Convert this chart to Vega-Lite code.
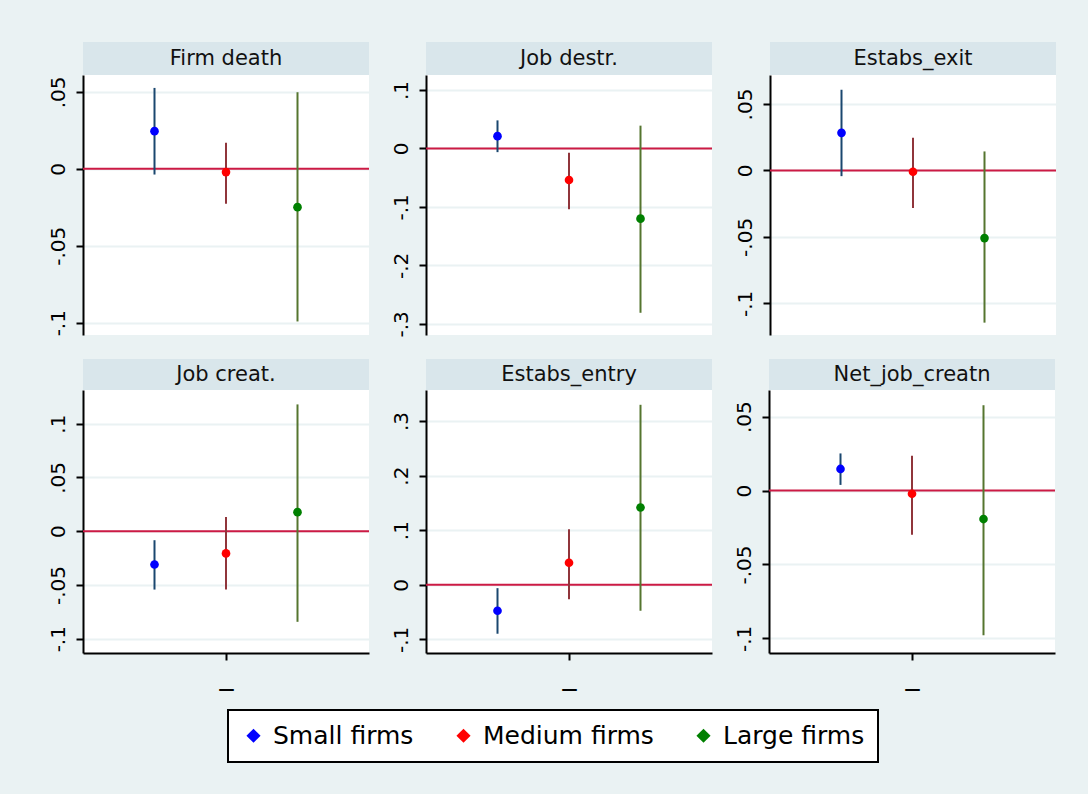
{
  "$schema": "https://vega.github.io/schema/vega-lite/v6.json",
  "background": "#EAF2F3",
  "padding": {"left": 47, "top": 42, "right": 32, "bottom": 32},
  "datasets": {
    "est": [
      {"outcome": "Firm death", "size": "Small firms", "coef": 0.0245, "lo": -0.0037, "hi": 0.0526},
      {"outcome": "Firm death", "size": "Medium firms", "coef": -0.0021, "lo": -0.0227, "hi": 0.0169},
      {"outcome": "Firm death", "size": "Large firms", "coef": -0.0249, "lo": -0.0992, "hi": 0.0498},
      {"outcome": "Job destr.", "size": "Small firms", "coef": 0.021, "lo": -0.0063, "hi": 0.048},
      {"outcome": "Job destr.", "size": "Medium firms", "coef": -0.054, "lo": -0.104, "hi": -0.0074},
      {"outcome": "Job destr.", "size": "Large firms", "coef": -0.12, "lo": -0.281, "hi": 0.039},
      {"outcome": "Estabs_exit", "size": "Small firms", "coef": 0.0283, "lo": -0.0043, "hi": 0.0607},
      {"outcome": "Estabs_exit", "size": "Medium firms", "coef": -0.001, "lo": -0.0283, "hi": 0.0246},
      {"outcome": "Estabs_exit", "size": "Large firms", "coef": -0.0509, "lo": -0.1145, "hi": 0.0143},
      {"outcome": "Job creat.", "size": "Small firms", "coef": -0.031, "lo": -0.0543, "hi": -0.0084},
      {"outcome": "Job creat.", "size": "Medium firms", "coef": -0.0207, "lo": -0.0543, "hi": 0.0133},
      {"outcome": "Job creat.", "size": "Large firms", "coef": 0.0177, "lo": -0.0843, "hi": 0.1179},
      {"outcome": "Estabs_entry", "size": "Small firms", "coef": -0.0476, "lo": -0.0897, "hi": -0.0062},
      {"outcome": "Estabs_entry", "size": "Medium firms", "coef": 0.0403, "lo": -0.0264, "hi": 0.1018},
      {"outcome": "Estabs_entry", "size": "Large firms", "coef": 0.1416, "lo": -0.0476, "hi": 0.3297},
      {"outcome": "Net_job_creatn", "size": "Small firms", "coef": 0.0146, "lo": 0.0038, "hi": 0.0251},
      {"outcome": "Net_job_creatn", "size": "Medium firms", "coef": -0.0022, "lo": -0.0299, "hi": 0.0236},
      {"outcome": "Net_job_creatn", "size": "Large firms", "coef": -0.0193, "lo": -0.0979, "hi": 0.0577}
    ]
  },
  "spacing": 21,
  "vconcat": [
    {
      "spacing": 21,
      "hconcat": [
        {
          "spacing": 0, "bounds": "flush",
          "vconcat": [
            {"width": 286, "height": 33, "view": {"fill": "#D9E6EB", "stroke": null},
             "data": {"values": [{"label": "Firm death"}]},
             "mark": {"type": "text", "fontSize": 21, "font": "DejaVu Sans", "color": "#111111"},
             "encoding": {"text": {"field": "label"}}},
            {"width": 286, "height": 260, "view": {"fill": "white", "stroke": null},
             "data": {"name": "est"},
             "transform": [{"filter": "datum.outcome === 'Firm death'"}],
             "layer": [
               {"data": {"values": [{}]}, "mark": {"type": "rule", "color": "#cc1a44", "strokeWidth": 2},
                "encoding": {"y": {"datum": 0, "type": "quantitative", "title": null,
                  "scale": {"domain": [-0.108, 0.061], "nice": false, "zero": false},
                  "axis": {"values": [-0.1, -0.05, 0, 0.05]}}}},
               {"mark": {"type": "rule", "strokeWidth": 2},
                "encoding": {
                  "x": {"field": "size", "type": "nominal", "axis": null, "scale": {"type": "point", "padding": 1, "domain": ["Small firms", "Medium firms", "Large firms"]}},
                  "y": {"field": "lo", "type": "quantitative", "title": null},
                  "y2": {"field": "hi"},
                  "stroke": {"field": "size", "type": "nominal", "legend": null, "sort": ["Small firms", "Medium firms", "Large firms"], "scale": {"range": ["#1a476f", "#90353b", "#55752f"]}}}},
               {"mark": {"type": "circle", "size": 75, "opacity": 1, "strokeWidth": 0},
                "encoding": {
                  "x": {"field": "size", "type": "nominal"},
                  "y": {"field": "coef", "type": "quantitative", "title": null},
                  "fill": {"field": "size", "type": "nominal", "scale": {"domain": ["Small firms", "Medium firms", "Large firms"], "range": ["#0000ff", "#ff0000", "#008000"]},
                    "legend": {"orient": "none", "legendX": 145, "legendY": 668, "direction": "horizontal", "title": null}}}}
             ]}
          ]
        },
        {
          "spacing": 0, "bounds": "flush",
          "vconcat": [
            {"width": 286, "height": 33, "view": {"fill": "#D9E6EB", "stroke": null},
             "data": {"values": [{"label": "Job destr."}]},
             "mark": {"type": "text", "fontSize": 21, "font": "DejaVu Sans", "color": "#111111"},
             "encoding": {"text": {"field": "label"}}},
            {"width": 286, "height": 260, "view": {"fill": "white", "stroke": null},
             "data": {"name": "est"},
             "transform": [{"filter": "datum.outcome === 'Job destr.'"}],
             "layer": [
               {"data": {"values": [{}]}, "mark": {"type": "rule", "color": "#cc1a44", "strokeWidth": 2},
                "encoding": {"y": {"datum": 0, "type": "quantitative", "title": null,
                  "scale": {"domain": [-0.319, 0.1256], "nice": false, "zero": false},
                  "axis": {"values": [-0.3, -0.2, -0.1, 0, 0.1]}}}},
               {"mark": {"type": "rule", "strokeWidth": 2},
                "encoding": {
                  "x": {"field": "size", "type": "nominal", "axis": null, "scale": {"type": "point", "padding": 1, "domain": ["Small firms", "Medium firms", "Large firms"]}},
                  "y": {"field": "lo", "type": "quantitative", "title": null},
                  "y2": {"field": "hi"},
                  "stroke": {"field": "size", "type": "nominal", "legend": null, "sort": ["Small firms", "Medium firms", "Large firms"], "scale": {"range": ["#1a476f", "#90353b", "#55752f"]}}}},
               {"mark": {"type": "circle", "size": 75, "opacity": 1, "strokeWidth": 0},
                "encoding": {
                  "x": {"field": "size", "type": "nominal"},
                  "y": {"field": "coef", "type": "quantitative", "title": null},
                  "fill": {"field": "size", "type": "nominal", "scale": {"domain": ["Small firms", "Medium firms", "Large firms"], "range": ["#0000ff", "#ff0000", "#008000"]},
                    "legend": {"orient": "none", "legendX": 145, "legendY": 668, "direction": "horizontal", "title": null}}}}
             ]}
          ]
        },
        {
          "spacing": 0, "bounds": "flush",
          "vconcat": [
            {"width": 286, "height": 33, "view": {"fill": "#D9E6EB", "stroke": null},
             "data": {"values": [{"label": "Estabs_exit"}]},
             "mark": {"type": "text", "fontSize": 21, "font": "DejaVu Sans", "color": "#111111"},
             "encoding": {"text": {"field": "label"}}},
            {"width": 286, "height": 260, "view": {"fill": "white", "stroke": null},
             "data": {"name": "est"},
             "transform": [{"filter": "datum.outcome === 'Estabs_exit'"}],
             "layer": [
               {"data": {"values": [{}]}, "mark": {"type": "rule", "color": "#cc1a44", "strokeWidth": 2},
                "encoding": {"y": {"datum": 0, "type": "quantitative", "title": null,
                  "scale": {"domain": [-0.1238, 0.0718], "nice": false, "zero": false},
                  "axis": {"values": [-0.1, -0.05, 0, 0.05]}}}},
               {"mark": {"type": "rule", "strokeWidth": 2},
                "encoding": {
                  "x": {"field": "size", "type": "nominal", "axis": null, "scale": {"type": "point", "padding": 1, "domain": ["Small firms", "Medium firms", "Large firms"]}},
                  "y": {"field": "lo", "type": "quantitative", "title": null},
                  "y2": {"field": "hi"},
                  "stroke": {"field": "size", "type": "nominal", "legend": null, "sort": ["Small firms", "Medium firms", "Large firms"], "scale": {"range": ["#1a476f", "#90353b", "#55752f"]}}}},
               {"mark": {"type": "circle", "size": 75, "opacity": 1, "strokeWidth": 0},
                "encoding": {
                  "x": {"field": "size", "type": "nominal"},
                  "y": {"field": "coef", "type": "quantitative", "title": null},
                  "fill": {"field": "size", "type": "nominal", "scale": {"domain": ["Small firms", "Medium firms", "Large firms"], "range": ["#0000ff", "#ff0000", "#008000"]},
                    "legend": {"orient": "none", "legendX": 145, "legendY": 668, "direction": "horizontal", "title": null}}}}
             ]}
          ]
        }
      ]
    },
    {
      "spacing": 20,
      "hconcat": [
        {
          "spacing": 0, "bounds": "flush",
          "vconcat": [
            {"width": 286, "height": 31, "view": {"fill": "#D9E6EB", "stroke": null},
             "data": {"values": [{"label": "Job creat."}]},
             "mark": {"type": "text", "fontSize": 21, "font": "DejaVu Sans", "color": "#111111"},
             "encoding": {"text": {"field": "label"}}},
            {"width": 286, "height": 263, "view": {"fill": "white", "stroke": null},
             "data": {"name": "est"},
             "transform": [{"filter": "datum.outcome === 'Job creat.'"}],
             "layer": [
               {"data": {"values": [{}]}, "mark": {"type": "rule", "color": "#cc1a44", "strokeWidth": 2},
                "encoding": {"y": {"datum": 0, "type": "quantitative", "title": null,
                  "scale": {"domain": [-0.1133, 0.1313], "nice": false, "zero": false},
                  "axis": {"values": [-0.1, -0.05, 0, 0.05, 0.1]}}}},
               {"mark": {"type": "rule", "strokeWidth": 2},
                "encoding": {
                  "x": {"field": "size", "type": "nominal", "title": null, "scale": {"type": "point", "padding": 1, "domain": ["Small firms", "Medium firms", "Large firms"]},
                    "axis": {"values": ["Medium firms"], "labelExpr": "'_'"}},
                  "y": {"field": "lo", "type": "quantitative", "title": null},
                  "y2": {"field": "hi"},
                  "stroke": {"field": "size", "type": "nominal", "legend": null, "sort": ["Small firms", "Medium firms", "Large firms"], "scale": {"range": ["#1a476f", "#90353b", "#55752f"]}}}},
               {"mark": {"type": "circle", "size": 75, "opacity": 1, "strokeWidth": 0},
                "encoding": {
                  "x": {"field": "size", "type": "nominal", "title": null},
                  "y": {"field": "coef", "type": "quantitative", "title": null},
                  "fill": {"field": "size", "type": "nominal", "scale": {"domain": ["Small firms", "Medium firms", "Large firms"], "range": ["#0000ff", "#ff0000", "#008000"]},
                    "legend": {"orient": "none", "legendX": 145, "legendY": 668, "direction": "horizontal", "title": null}}}}
             ]}
          ]
        },
        {
          "spacing": 0, "bounds": "flush",
          "vconcat": [
            {"width": 286, "height": 31, "view": {"fill": "#D9E6EB", "stroke": null},
             "data": {"values": [{"label": "Estabs_entry"}]},
             "mark": {"type": "text", "fontSize": 21, "font": "DejaVu Sans", "color": "#111111"},
             "encoding": {"text": {"field": "label"}}},
            {"width": 286, "height": 263, "view": {"fill": "white", "stroke": null},
             "data": {"name": "est"},
             "transform": [{"filter": "datum.outcome === 'Estabs_entry'"}],
             "layer": [
               {"data": {"values": [{}]}, "mark": {"type": "rule", "color": "#cc1a44", "strokeWidth": 2},
                "encoding": {"y": {"datum": 0, "type": "quantitative", "title": null,
                  "scale": {"domain": [-0.125, 0.3568], "nice": false, "zero": false},
                  "axis": {"values": [-0.1, 0, 0.1, 0.2, 0.3]}}}},
               {"mark": {"type": "rule", "strokeWidth": 2},
                "encoding": {
                  "x": {"field": "size", "type": "nominal", "title": null, "scale": {"type": "point", "padding": 1, "domain": ["Small firms", "Medium firms", "Large firms"]},
                    "axis": {"values": ["Medium firms"], "labelExpr": "'_'"}},
                  "y": {"field": "lo", "type": "quantitative", "title": null},
                  "y2": {"field": "hi"},
                  "stroke": {"field": "size", "type": "nominal", "legend": null, "sort": ["Small firms", "Medium firms", "Large firms"], "scale": {"range": ["#1a476f", "#90353b", "#55752f"]}}}},
               {"mark": {"type": "circle", "size": 75, "opacity": 1, "strokeWidth": 0},
                "encoding": {
                  "x": {"field": "size", "type": "nominal", "title": null},
                  "y": {"field": "coef", "type": "quantitative", "title": null},
                  "fill": {"field": "size", "type": "nominal", "scale": {"domain": ["Small firms", "Medium firms", "Large firms"], "range": ["#0000ff", "#ff0000", "#008000"]},
                    "legend": {"orient": "none", "legendX": 145, "legendY": 668, "direction": "horizontal", "title": null}}}}
             ]}
          ]
        },
        {
          "spacing": 0, "bounds": "flush",
          "vconcat": [
            {"width": 286, "height": 31, "view": {"fill": "#D9E6EB", "stroke": null},
             "data": {"values": [{"label": "Net_job_creatn"}]},
             "mark": {"type": "text", "fontSize": 21, "font": "DejaVu Sans", "color": "#111111"},
             "encoding": {"text": {"field": "label"}}},
            {"width": 286, "height": 263, "view": {"fill": "white", "stroke": null},
             "data": {"name": "est"},
             "transform": [{"filter": "datum.outcome === 'Net_job_creatn'"}],
             "layer": [
               {"data": {"values": [{}]}, "mark": {"type": "rule", "color": "#cc1a44", "strokeWidth": 2},
                "encoding": {"y": {"datum": 0, "type": "quantitative", "title": null,
                  "scale": {"domain": [-0.1099, 0.068], "nice": false, "zero": false},
                  "axis": {"values": [-0.1, -0.05, 0, 0.05]}}}},
               {"mark": {"type": "rule", "strokeWidth": 2},
                "encoding": {
                  "x": {"field": "size", "type": "nominal", "title": null, "scale": {"type": "point", "padding": 1, "domain": ["Small firms", "Medium firms", "Large firms"]},
                    "axis": {"values": ["Medium firms"], "labelExpr": "'_'"}},
                  "y": {"field": "lo", "type": "quantitative", "title": null},
                  "y2": {"field": "hi"},
                  "stroke": {"field": "size", "type": "nominal", "legend": null, "sort": ["Small firms", "Medium firms", "Large firms"], "scale": {"range": ["#1a476f", "#90353b", "#55752f"]}}}},
               {"mark": {"type": "circle", "size": 75, "opacity": 1, "strokeWidth": 0},
                "encoding": {
                  "x": {"field": "size", "type": "nominal", "title": null},
                  "y": {"field": "coef", "type": "quantitative", "title": null},
                  "fill": {"field": "size", "type": "nominal", "scale": {"domain": ["Small firms", "Medium firms", "Large firms"], "range": ["#0000ff", "#ff0000", "#008000"]},
                    "legend": {"orient": "none", "legendX": 145, "legendY": 668, "direction": "horizontal", "title": null}}}}
             ]}
          ]
        }
      ]
    }
  ],
  "config": {
    "font": "DejaVu Sans",
    "axis": {
      "domainColor": "#000000", "domainWidth": 2,
      "tickColor": "#000000", "tickWidth": 2, "tickSize": 7,
      "labelColor": "#000000", "labelFont": "DejaVu Sans"
    },
    "axisY": {
      "grid": true, "gridColor": "#EAF2F3", "gridWidth": 2,
      "labelAngle": 270, "labelPadding": 8, "labelFontSize": 20,
      "labelExpr": "replace(replace(format(datum.value, '.2~f'), '0.', '.'), '−', '-')"
    },
    "axisX": {
      "grid": false, "labelAngle": 0, "labelFontSize": 28, "labelPadding": 1
    },
    "legend": {
      "symbolType": "diamond", "symbolSize": 200, "symbolStrokeWidth": 0,
      "labelFontSize": 25, "labelFont": "DejaVu Sans", "labelColor": "#000000", "labelLimit": 0,
      "labelOffset": 7, "columnPadding": 37, "padding": 13,
      "fillColor": "white", "strokeColor": "#000000", "strokeWidth": 2
    }
  }
}
